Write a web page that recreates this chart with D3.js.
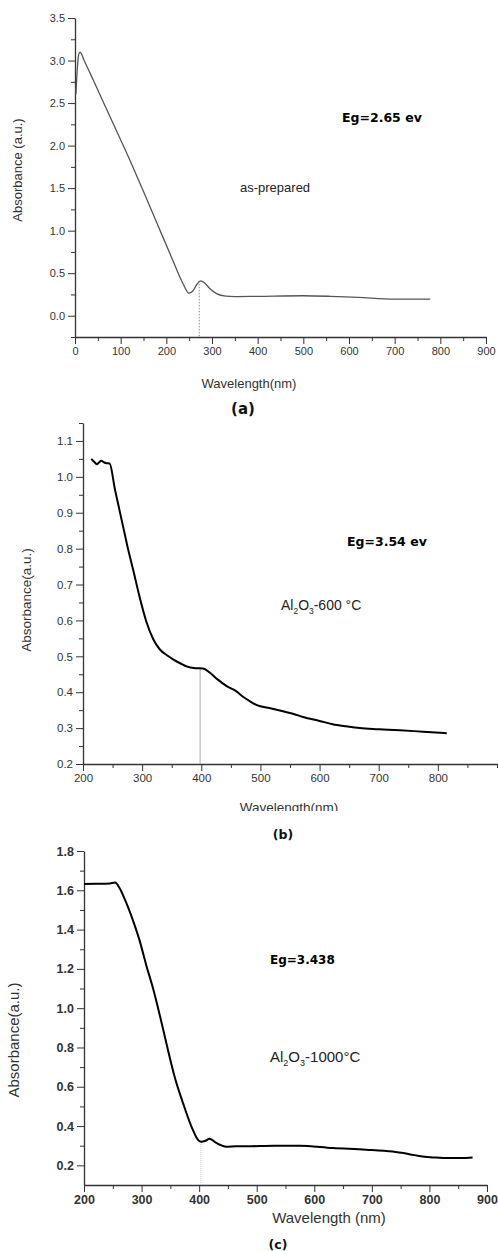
<!DOCTYPE html>
<html>
<head>
<meta charset="utf-8">
<script src="https://cdn.jsdelivr.net/npm/d3@7"></script>
<style>
  body { margin: 0; background: #fff; }
  svg { display: block; }
  .tick text { fill: #333; }
</style>
</head>
<body>
<div id="chart"></div>
<script>
// panel (a) as-prepared
var aWl  = [2, 5, 8, 11, 20, 40, 80, 120, 150, 180, 200, 215, 230, 240, 249, 258, 267, 275, 284, 295, 310, 330, 350, 400, 500, 560, 620, 700, 778];
var aAbs = [2.6, 2.9, 3.07, 3.1, 3.0, 2.77, 2.3, 1.83, 1.46, 1.08, 0.83, 0.64, 0.45, 0.34, 0.265, 0.29, 0.37, 0.41, 0.385, 0.32, 0.26, 0.23, 0.225, 0.228, 0.235, 0.228, 0.215, 0.195, 0.195];
// panel (b) Al2O3-600
var bWl  = [214, 220, 223, 227, 231, 236, 240, 245, 254, 260, 268, 276, 285, 295, 307, 319, 330, 342, 353, 365, 375, 390, 403, 414, 428, 443, 459, 470, 482, 494, 515, 538, 555, 572, 600, 622, 645, 668, 700, 736, 775, 815];
var bAbs = [1.05, 1.04, 1.035, 1.04, 1.045, 1.04, 1.038, 1.037, 0.965, 0.92, 0.86, 0.80, 0.74, 0.67, 0.597, 0.547, 0.519, 0.503, 0.491, 0.48, 0.472, 0.467, 0.466, 0.455, 0.435, 0.417, 0.403, 0.388, 0.375, 0.364, 0.356, 0.347, 0.34, 0.331, 0.32, 0.311, 0.305, 0.30, 0.297, 0.294, 0.29, 0.286];
// panel (c) Al2O3-1000
var cWl  = [200, 220, 245, 254, 262, 270, 277, 287, 297, 308, 320, 332, 344, 358, 372, 387, 398, 404, 411, 418, 427, 436, 447, 465, 482, 530, 574, 632, 690, 736, 765, 788, 810, 835, 855, 875];
var cAbs = [1.632, 1.633, 1.635, 1.64, 1.61, 1.56, 1.51, 1.43, 1.34, 1.22, 1.10, 0.96, 0.81, 0.645, 0.517, 0.395, 0.33, 0.32, 0.325, 0.335, 0.32, 0.305, 0.295, 0.297, 0.297, 0.30, 0.30, 0.288, 0.28, 0.27, 0.257, 0.245, 0.24, 0.237, 0.237, 0.24];

// band gap marker lines [wavelength, absorbance at top]
var aMark = [272, 0.41];
var bMark = [398, 0.466];
var cMark = [403, 0.32];

var aXTicks = [0, 100, 200, 300, 400, 500, 600, 700, 800, 900];
var aYTicks = [0.0, 0.5, 1.0, 1.5, 2.0, 2.5, 3.0, 3.5];
var bXTicks = [200, 300, 400, 500, 600, 700, 800];
var bYTicks = [0.2, 0.3, 0.4, 0.5, 0.6, 0.7, 0.8, 0.9, 1.0, 1.1];
var cXTicks = [200, 300, 400, 500, 600, 700, 800, 900];
var cYTicks = [0.2, 0.4, 0.6, 0.8, 1.0, 1.2, 1.4, 1.6, 1.8];

var W = 498, H = 1251;
var svg = d3.select("#chart").append("svg")
    .attr("width", W)
    .attr("height", H);

var FONT = "'Liberation Sans', Arial, sans-serif";
var BOLD = "'DejaVu Sans', Verdana, sans-serif";

function range(a, b, s) {
    var out = [];
    for (var v = a; v <= b + 1e-9; v += s) out.push(+v.toFixed(4));
    return out;
}

function panel(p) {
    var x = d3.scaleLinear().domain(p.xDom).range(p.xR);
    var y = d3.scaleLinear().domain(p.yDom).range(p.yR);
    var g = svg.append("g");

    // minor ticks first
    g.append("g")
        .attr("transform", "translate(0," + p.yR[0] + ")")
        .call(d3.axisBottom(x).tickValues(p.xMinor).tickSize(4).tickFormat(""))
        .call(function(s) { s.select(".domain").remove(); });
    g.append("g")
        .attr("transform", "translate(" + p.xR[0] + ",0)")
        .call(d3.axisLeft(y).tickValues(p.yMinor).tickSize(4).tickFormat(""))
        .call(function(s) { s.select(".domain").remove(); });

    var xa = g.append("g")
        .attr("transform", "translate(0," + p.yR[0] + ")")
        .call(d3.axisBottom(x).tickValues(p.xTicks).tickSize(7).tickSizeOuter(0).tickPadding(3).tickFormat(d3.format("d")));
    var ya = g.append("g")
        .attr("transform", "translate(" + p.xR[0] + ",0)")
        .call(d3.axisLeft(y).tickValues(p.yTicks).tickSize(7).tickSizeOuter(0).tickPadding(3).tickFormat(d3.format(".1f")));

    [xa, ya].forEach(function(a) {
        a.selectAll("text").style("font-family", FONT).style("font-size", p.tickFont + "px")
            .style("font-weight", p.tickWeight || "normal");
        a.select(".domain").attr("stroke", "#333").attr("stroke-width", 1.3);
    });
    g.selectAll(".tick line").attr("stroke", "#333");

    // marker line
    g.append("line")
        .attr("x1", x(p.mark[0])).attr("x2", x(p.mark[0]))
        .attr("y1", y(p.mark[1])).attr("y2", p.yR[0])
        .attr("stroke", p.markColor)
        .attr("stroke-width", 1)
        .attr("stroke-dasharray", p.markDash);

    var pts = p.wl.map(function(w, i) { return [w, p.abs[i]]; });
    g.append("path")
        .datum(pts)
        .attr("fill", "none")
        .attr("stroke", p.lineColor)
        .attr("stroke-width", p.lineWidth)
        .attr("stroke-linejoin", "round")
        .attr("d", d3.line().curve(d3.curveMonotoneX)
            .x(function(d) { return x(d[0]); })
            .y(function(d) { return y(d[1]); }));

    // axis titles
    g.append("text")
        .attr("transform", "translate(" + p.yLab[0] + "," + p.yLab[1] + ") rotate(-90)")
        .attr("text-anchor", "middle")
        .style("font-family", FONT).style("font-size", p.labFont + "px").attr("fill", "#333")
        .text(p.yTitle);
    var xt = g.append("text")
        .attr("x", p.xLab[0]).attr("y", p.xLab[1])
        .attr("text-anchor", "middle")
        .style("font-family", FONT).style("font-size", p.labFont + "px").attr("fill", "#333")
        .text(p.xTitle);
    if (p.clipX) {
        var id = "clip" + p.id;
        svg.append("clipPath").attr("id", id).append("rect")
            .attr("x", 0).attr("y", 0).attr("width", W).attr("height", p.clipX);
        xt.attr("clip-path", "url(#" + id + ")");
    }

    // sub figure letter
    g.append("text")
        .attr("x", p.letter[0]).attr("y", p.letter[1])
        .attr("text-anchor", "middle")
        .style("font-family", BOLD).style("font-weight", "bold").style("font-size", p.letterFont + "px")
        .attr("fill", "#111")
        .text(p.letterText);

    // band gap text
    g.append("text")
        .attr("x", p.eg[0]).attr("y", p.eg[1])
        .style("font-family", BOLD).style("font-weight", "bold").style("font-size", p.egFont + "px")
        .attr("fill", "#000")
        .text(p.egText);

    // sample name
    var s = g.append("text")
        .attr("x", p.name[0]).attr("y", p.name[1])
        .style("font-family", FONT).style("font-size", p.nameFont + "px").attr("fill", "#222");
    var shift = 0;
    p.nameParts.forEach(function(t) {
        var down = t[1] === "sub" ? 4 : 0;
        s.append("tspan")
            .attr("dy", down - shift)
            .style("font-size", t[1] === "sub" ? (p.nameFont * 0.6) + "px" : null)
            .text(t[0]);
        shift = down;
    });
}

panel({
    id: "a",
    wl: aWl, abs: aAbs,
    xDom: [0, 900], xR: [75, 486],
    yDom: [-0.25, 3.5], yR: [337, 18],
    xTicks: aXTicks, xMinor: range(50, 850, 100),
    yTicks: aYTicks, yMinor: range(-0.25, 3.25, 0.5),
    tickFont: 11,
    lineColor: "#555", lineWidth: 1.3,
    mark: aMark, markColor: "#888", markDash: "1.5,1.5",
    yTitle: "Absorbance (a.u.)", yLab: [22, 170],
    xTitle: "Wavelength(nm)", xLab: [249, 388],
    labFont: 13,
    letter: [243, 414], letterText: "(a)", letterFont: 15,
    eg: [342, 122], egText: "Eg=2.65 ev", egFont: 12.5,
    name: [240, 192], nameParts: [["as-prepared"]], nameFont: 13
});

panel({
    id: "b",
    wl: bWl, abs: bAbs,
    xDom: [200, 900], xR: [83, 497],
    yDom: [0.2, 1.15], yR: [764, 423],
    xTicks: bXTicks, xMinor: range(250, 900, 50).filter(function(v) { return v % 100 !== 0 || v === 900; }),
    yTicks: bYTicks, yMinor: range(0.25, 1.15, 0.1),
    tickFont: 11.5,
    lineColor: "#000", lineWidth: 2,
    mark: bMark, markColor: "#aaa", markDash: null,
    yTitle: "Absorbance(a.u.)", yLab: [31, 600],
    xTitle: "Wavelength(nm)", xLab: [289, 812],
    clipX: 811,
    labFont: 13.5,
    letter: [283, 839], letterText: "(b)", letterFont: 12.5,
    eg: [347, 546], egText: "Eg=3.54 ev", egFont: 12.5,
    name: [281, 610], nameParts: [["Al"], ["2", "sub"], ["O"], ["3", "sub"], ["-600 °C"]], nameFont: 14
});

panel({
    id: "c",
    wl: cWl, abs: cAbs,
    xDom: [200, 900], xR: [84, 487],
    yDom: [0.1, 1.8], yR: [1185, 851],
    xTicks: cXTicks, xMinor: range(250, 850, 100),
    yTicks: cYTicks, yMinor: range(0.3, 1.7, 0.2),
    tickFont: 12.5, tickWeight: "bold",
    lineColor: "#000", lineWidth: 2,
    mark: cMark, markColor: "#bbb", markDash: "1,1",
    yTitle: "Absorbance(a.u.)", yLab: [19, 1040],
    xTitle: "Wavelength (nm)", xLab: [329, 1223],
    labFont: 15,
    letter: [278, 1249], letterText: "(c)", letterFont: 12.5,
    eg: [270, 964], egText: "Eg=3.438", egFont: 12,
    name: [270, 1062], nameParts: [["Al"], ["2", "sub"], ["O"], ["3", "sub"], ["-1000°C"]], nameFont: 15
});
</script>
</body>
</html>
